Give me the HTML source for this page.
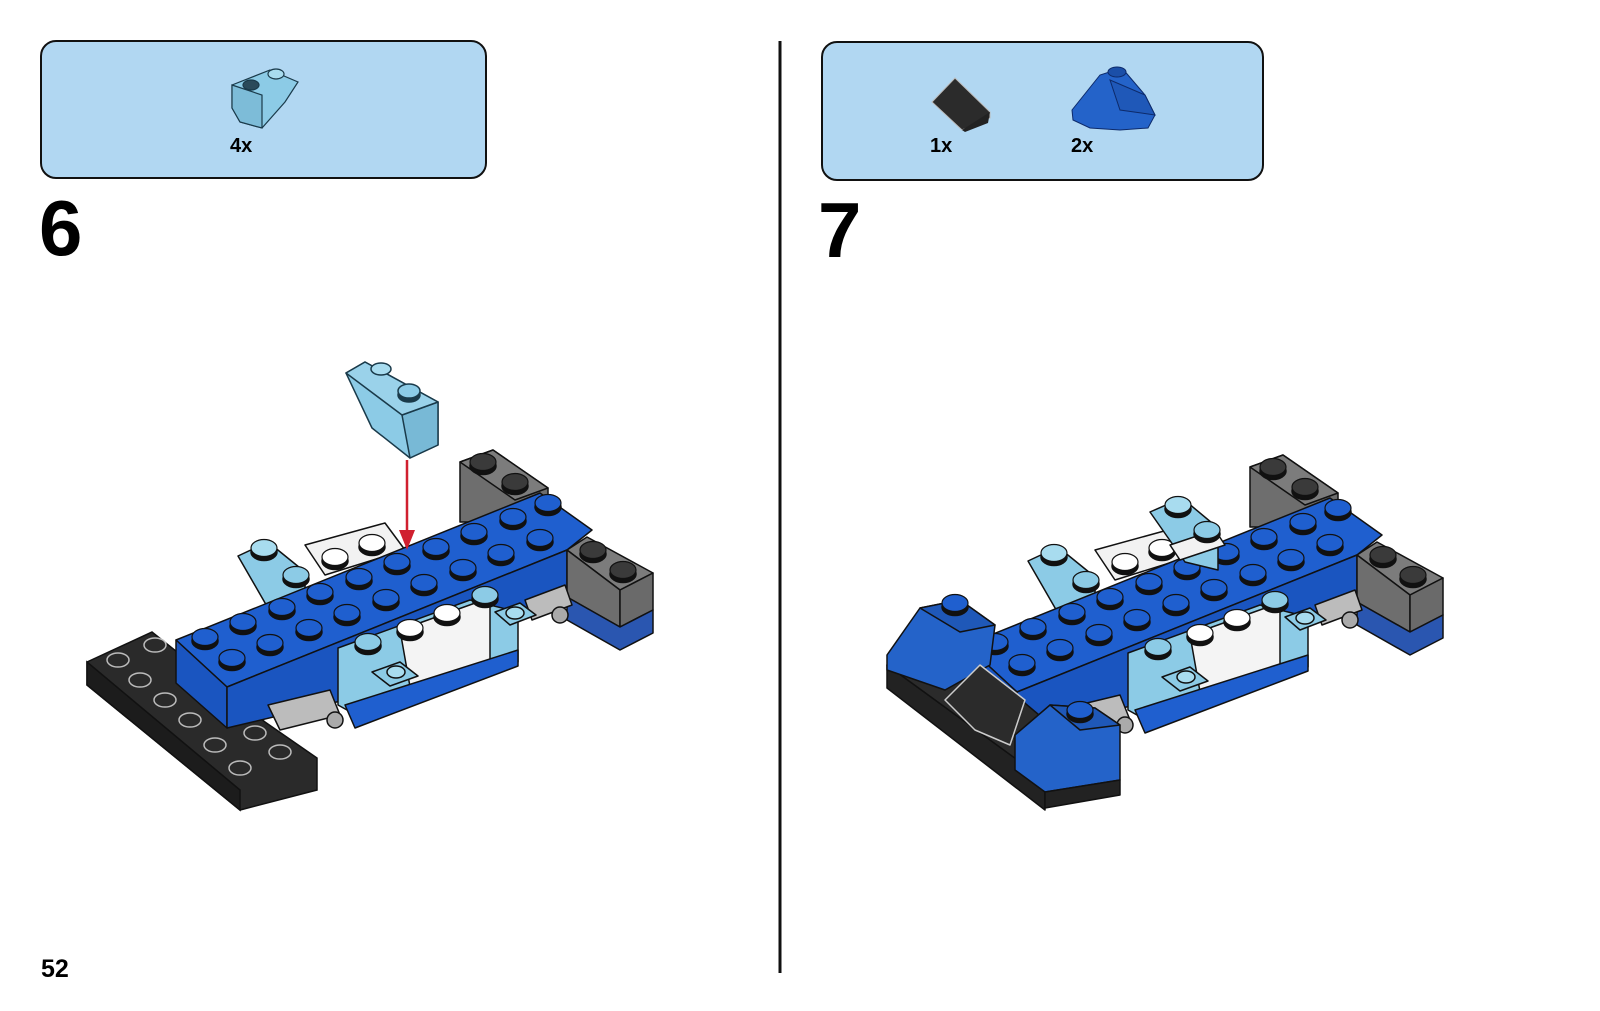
<!DOCTYPE html>
<html><head><meta charset="utf-8"><style>
html,body{margin:0;padding:0;background:#fff;}
svg{display:block}
text{font-family:"Liberation Sans",Arial,sans-serif;font-weight:bold;fill:#000}
</style></head><body>
<svg width="1600" height="1011" viewBox="0 0 1600 1011" xmlns="http://www.w3.org/2000/svg">
<defs>
<g id="stud"><ellipse cx="0" cy="4" rx="13" ry="8.5" fill="#111"/><ellipse cx="0" cy="0" rx="13" ry="8.5" fill="currentColor" stroke="#111" stroke-width="1.2"/></g>
<g id="body" stroke="#111" stroke-width="1.5" stroke-linejoin="round">
  <polygon points="460,462 493,450 548,488 548,505 473,522 460,522" fill="#6e6e6e"/>
  <polygon points="460,462 493,450 548,488 515,500" fill="#7c7c7c"/>
  <use href="#stud" x="483" y="462" color="#3a3a3a"/>
  <use href="#stud" x="515" y="482" color="#3a3a3a"/>
  <polygon points="238,556 268,542 305,572 305,625 272,615" fill="#8ccbe6"/>
  <use href="#stud" x="264" y="548" color="#a8dcef"/>
  <use href="#stud" x="296" y="575" color="#8ccbe6"/>
  <polygon points="305,545 385,523 405,550 325,575" fill="#f2f2f2"/>
  <use href="#stud" x="335" y="557" color="#fff"/>
  <use href="#stud" x="372" y="543" color="#fff"/>
  <polygon points="176,640 540,493 592,530 567,550 227,687" fill="#1f5fcf"/>
  <polygon points="176,640 227,687 227,728 176,683" fill="#1a55c0"/>
  <polygon points="227,687 567,550 567,600 345,690 345,700 227,728" fill="#1a55c0"/>
  <polygon points="567,550 587,537 653,573 620,590" fill="#7c7c7c"/>
  <polygon points="567,550 620,590 620,627 567,597" fill="#6e6e6e"/>
  <polygon points="620,590 653,573 653,610 620,627" fill="#6a6a6a"/>
  <polygon points="567,597 620,627 653,610 653,633 620,650 567,620" fill="#2a56b0"/>
  <use href="#stud" x="593" y="550" color="#3a3a3a"/>
  <use href="#stud" x="623" y="570" color="#3a3a3a"/>
  <polygon points="268,705 330,690 340,715 280,730" fill="#bcbcbc"/>
  <circle cx="335" cy="720" r="8" fill="#aaa"/>
  <polygon points="525,600 565,585 572,605 532,620" fill="#bcbcbc"/>
  <circle cx="560" cy="615" r="8" fill="#aaa"/>
  <polygon points="338,648 470,600 518,612 518,662 365,720 338,705" fill="#8ccbe6"/>
  <polygon points="400,630 478,602 490,606 490,668 412,698" fill="#f4f4f4"/>
  <polygon points="345,705 518,650 518,666 355,728" fill="#1f5fcf"/>
  <polygon points="372,672 400,662 418,676 390,686" fill="#8ccbe6"/>
  <ellipse cx="396" cy="672" rx="9" ry="6" fill="#a8dcef"/>
  <polygon points="495,612 520,603 536,615 510,625" fill="#8ccbe6"/>
  <ellipse cx="515" cy="613" rx="9" ry="6" fill="#a8dcef"/>
  <use href="#stud" x="368" y="642" color="#8ccbe6"/>
  <use href="#stud" x="410" y="628" color="#fff"/>
  <use href="#stud" x="447" y="613" color="#fff"/>
  <use href="#stud" x="485" y="595" color="#8ccbe6"/>
  <g color="#1f5fcf">
  <use href="#stud" x="205" y="637"/><use href="#stud" x="243" y="622"/><use href="#stud" x="282" y="607"/><use href="#stud" x="320" y="592"/><use href="#stud" x="359" y="577"/><use href="#stud" x="397" y="562"/><use href="#stud" x="436" y="547"/><use href="#stud" x="474" y="532"/><use href="#stud" x="513" y="517"/><use href="#stud" x="548" y="503"/>
  <use href="#stud" x="232" y="658"/><use href="#stud" x="270" y="643"/><use href="#stud" x="309" y="628"/><use href="#stud" x="347" y="613"/><use href="#stud" x="386" y="598"/><use href="#stud" x="424" y="583"/><use href="#stud" x="463" y="568"/><use href="#stud" x="501" y="553"/><use href="#stud" x="540" y="538"/>
  </g>
</g>
</defs>

<rect x="41" y="41" width="445" height="137" rx="15" fill="#b1d7f2" stroke="#111" stroke-width="2"/>
<rect x="822" y="42" width="441" height="138" rx="15" fill="#b1d7f2" stroke="#111" stroke-width="2"/>
<line x1="780" y1="41" x2="780" y2="973" stroke="#111" stroke-width="3"/>

<g stroke="#1a3a4a" stroke-width="1.2">
<polygon points="232,85 270,70 298,82 285,102 262,128 240,122 232,108" fill="#8ccbe6"/>
<polygon points="232,85 262,95 262,128 240,122 232,108" fill="#7dbcd8"/>
<ellipse cx="276" cy="74" rx="8" ry="5" fill="#a8dcef"/>
<ellipse cx="251" cy="85" rx="8" ry="5" fill="#2a4a5a"/>
</g>
<text x="230" y="152" font-size="20">4x</text>

<polygon points="932,102 955,78 990,112 990,118 962,130" fill="#2b2b2b" stroke="#bbb" stroke-width="1"/>
<polygon points="962,130 990,112 988,123 965,132" fill="#222"/>
<text x="930" y="152" font-size="20">1x</text>
<g stroke="#0d2a6a" stroke-width="1">
<polygon points="1072,110 1100,75 1122,68 1145,95 1155,115 1148,128 1120,130 1090,128 1073,120" fill="#2463c9"/>
<polygon points="1110,80 1145,95 1155,115 1120,110" fill="#1f58b8"/>
<ellipse cx="1117" cy="72" rx="9" ry="5" fill="#1b4fa8"/>
</g>
<text x="1071" y="152" font-size="20">2x</text>

<text x="39" y="255" font-size="78">6</text>
<text x="818" y="257" font-size="78">7</text>
<text x="41" y="977" font-size="25">52</text>

<g stroke="#111" stroke-width="1.5">
<polygon points="87,662 152,632 265,722 317,758 317,790 240,810 87,685" fill="#2a2a2a"/>
<polygon points="87,662 240,790 240,810 87,685" fill="#1c1c1c"/>
</g>
<g fill="none" stroke="#bbb" stroke-width="1.5">
<ellipse cx="118" cy="660" rx="11" ry="7"/><ellipse cx="155" cy="645" rx="11" ry="7"/>
<ellipse cx="140" cy="680" rx="11" ry="7"/><ellipse cx="165" cy="700" rx="11" ry="7"/>
<ellipse cx="190" cy="720" rx="11" ry="7"/><ellipse cx="215" cy="745" rx="11" ry="7"/>
<ellipse cx="240" cy="768" rx="11" ry="7"/><ellipse cx="255" cy="733" rx="11" ry="7"/>
<ellipse cx="280" cy="752" rx="11" ry="7"/>
</g>
<use href="#body"/>
<g stroke="#1a3a4a" stroke-width="1.5" stroke-linejoin="round">
<polygon points="346,373 365,362 438,402 438,445 410,458 372,428" fill="#8ccbe6"/>
<polygon points="402,415 438,402 438,445 410,458" fill="#78b9d6"/>
<polygon points="346,373 365,362 438,402 402,415" fill="#9ad2ea"/>
<ellipse cx="381" cy="369" rx="10" ry="6" fill="#a8dcef"/>
<ellipse cx="409" cy="395" rx="11" ry="7" fill="#1a3a4a"/>
<ellipse cx="409" cy="391" rx="11" ry="7" fill="#8ccbe6"/>
</g>
<line x1="407" y1="460" x2="407" y2="535" stroke="#d0202f" stroke-width="2.5"/>
<polygon points="399,530 415,530 407,550" fill="#d0202f"/>

<g transform="translate(790,5)">
<use href="#body"/>
</g>
<g stroke="#111" stroke-width="1.5" stroke-linejoin="round">
<polygon points="1150,512 1182,498 1218,528 1218,570 1185,562" fill="#8ccbe6"/>
<polygon points="1170,545 1215,530 1225,545 1180,560" fill="#f2f2f2"/>
<use href="#stud" x="1178" y="505" color="#a8dcef"/>
<use href="#stud" x="1207" y="530" color="#8ccbe6"/>
<polygon points="887,665 1045,780 1045,810 887,688" fill="#222"/>
<polygon points="887,665 950,640 1045,720 1045,780" fill="#2b2b2b"/>
<polygon points="887,655 920,608 960,600 995,625 990,665 945,690 887,670" fill="#2463c9"/>
<polygon points="920,608 960,600 995,625 960,632" fill="#1f58b8"/>
<use href="#stud" x="955" y="603" color="#1f5fcf"/>
<polygon points="945,700 980,665 1025,700 1010,745 975,730" fill="#2b2b2b" stroke="#ccc"/>
<polygon points="1015,735 1050,705 1095,708 1120,725 1120,780 1045,792 1015,770" fill="#2463c9"/>
<polygon points="1050,705 1095,708 1120,725 1080,730" fill="#1f58b8"/>
<polygon points="1045,792 1120,780 1120,795 1045,808" fill="#222"/>
<use href="#stud" x="1080" y="710" color="#1f5fcf"/>
</g>
</svg>
</body></html>
